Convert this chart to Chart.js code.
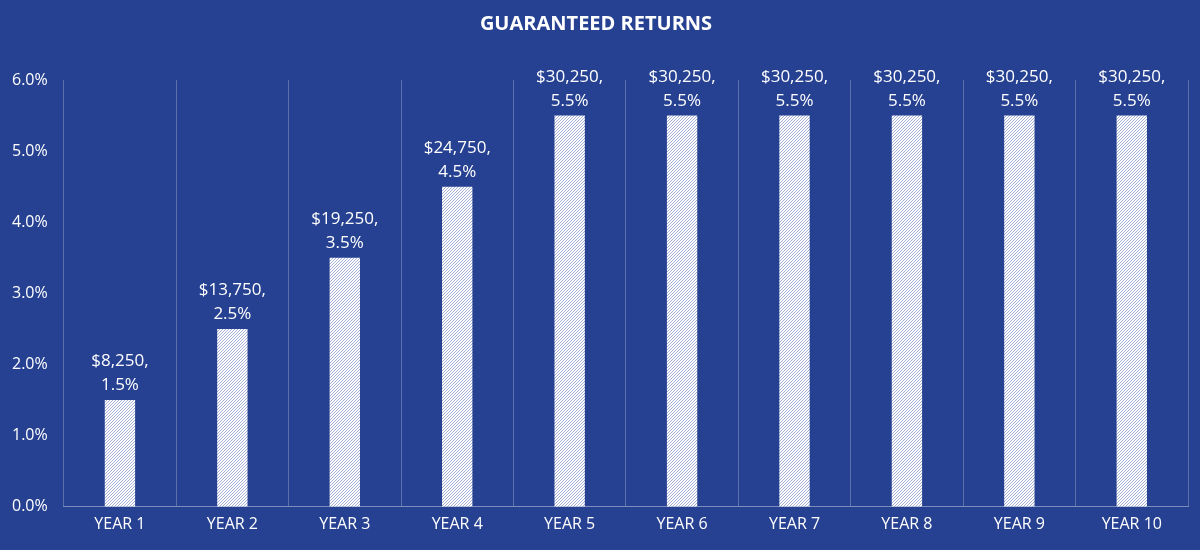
<!DOCTYPE html>
<html>
<head>
<meta charset="utf-8">
<script src="https://cdn.jsdelivr.net/npm/chart.js@4"></script>
<style>
  html, body { margin: 0; padding: 0; background: #264191; }
  #wrap { width: 1200px; height: 550px; }
</style>
</head>
<body>
<div id="wrap"><canvas id="chart"></canvas></div>
<script>
// DATA
const years = ["YEAR 1","YEAR 2","YEAR 3","YEAR 4","YEAR 5","YEAR 6","YEAR 7","YEAR 8","YEAR 9","YEAR 10"];
const rates = [1.5, 2.5, 3.5, 4.5, 5.5, 5.5, 5.5, 5.5, 5.5, 5.5];
const amounts = ["$8,250","$13,750","$19,250","$24,750","$30,250","$30,250","$30,250","$30,250","$30,250","$30,250"];

// fine hatch pattern: white with thin diagonal blue-grey lines
function makeHatch() {
  const c = document.createElement("canvas");
  c.width = 3; c.height = 3;
  const g = c.getContext("2d");
  g.fillStyle = "#ffffff";
  g.fillRect(0, 0, 3, 3);
  g.fillStyle = "#a3afd6";
  g.fillRect(2, 0, 1, 1);
  g.fillRect(1, 1, 1, 1);
  g.fillRect(0, 2, 1, 1);
  return g.createPattern(c, "repeat");
}

// two-line labels above bars
const barLabels = {
  id: "barLabels",
  afterDatasetsDraw(chart) {
    const ctx = chart.ctx;
    ctx.save();
    ctx.fillStyle = "#ffffff";
    ctx.font = "17px 'Open Sans', sans-serif";
    ctx.textAlign = "center";
    ctx.textBaseline = "bottom";
    chart.getDatasetMeta(0).data.forEach((bar, i) => {
      ctx.fillText(amounts[i] + ",", bar.x, bar.y - 30);
      ctx.fillText(rates[i].toFixed(1) + "%", bar.x, bar.y - 6);
    });
    ctx.restore();
  }
};

new Chart(document.getElementById("chart"), {
  type: "bar",
  data: {
    labels: years,
    datasets: [{
      data: rates,
      backgroundColor: makeHatch(),
      barPercentage: 0.27,
      categoryPercentage: 1
    }]
  },
  options: {
    responsive: true,
    maintainAspectRatio: false,
    animation: false,
    layout: { padding: { left: 4, right: 12, top: 4, bottom: 8 } },
    plugins: {
      legend: { display: false },
      tooltip: { enabled: false },
      title: {
        display: true,
        text: "GUARANTEED RETURNS",
        color: "#ffffff",
        font: { family: "'Open Sans', sans-serif", size: 20, weight: "bold" },
        padding: { top: 8, bottom: 44 }
      }
    },
    scales: {
      x: {
        grid: { display: true, offset: true, color: "rgba(255,255,255,0.25)", drawTicks: false },
        border: { color: "rgba(255,255,255,0.4)" },
        ticks: { color: "#ffffff", padding: 8, font: { family: "'Open Sans', sans-serif", size: 16 } }
      },
      y: {
        min: 0, max: 6,
        grid: { display: false },
        border: { display: false },
        ticks: {
          stepSize: 1, color: "#ffffff", padding: 8,
          font: { family: "'Open Sans', sans-serif", size: 16 },
          callback: v => v.toFixed(1) + "%"
        }
      }
    }
  },
  plugins: [barLabels]
});
</script>
</body>
</html>
